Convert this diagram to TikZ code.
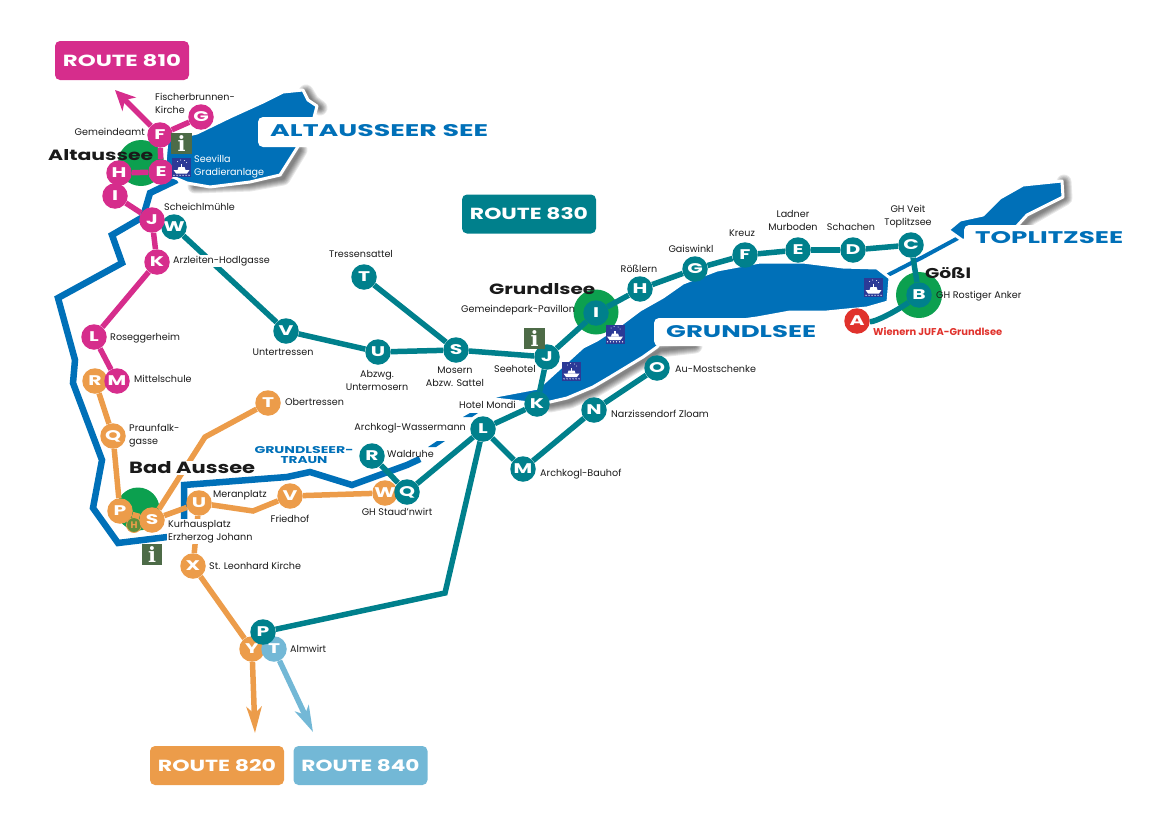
\documentclass[tikz,border=0pt]{standalone}
\usepackage{fontspec}
\setmainfont{Poppins}
\newfontfamily\infofont{DejaVu Serif}
\usetikzlibrary{arrows.meta}
\definecolor{tealc}{HTML}{00808C}
\definecolor{magc}{HTML}{D62D8C}
\definecolor{orac}{HTML}{EC9C4A}
\definecolor{lblc}{HTML}{73B8D6}
\definecolor{bluec}{HTML}{0070B8}
\definecolor{greenc}{HTML}{0CA04F}
\definecolor{redc}{HTML}{E0322C}
\definecolor{boatc}{HTML}{2C3A96}
\definecolor{infoc}{HTML}{4D6B47}
\definecolor{txtc}{HTML}{1A1A1A}
\definecolor{hring}{HTML}{5E8F3A}
\newcommand\wtext[3]{\resizebox{#1pt}{#2pt}{\bfseries #3}}
\newcommand\ltr[1]{\scalebox{1.45}[1]{\bfseries\fontsize{14}{14}\selectfont #1}}
\tikzset{
 x=1pt,y=-1pt,
 stopnode/.style={circle,minimum size=25.5pt,inner sep=0,text=white},
 stopm/.style={stopnode,fill=magc},
 stopt/.style={stopnode,fill=tealc},
 stopo/.style={stopnode,fill=orac},
 stopl/.style={stopnode,fill=lblc},
 stopr/.style={stopnode,fill=redc},
 linem/.style={draw=magc,line width=5.5pt},
 linet/.style={draw=tealc,line width=5.5pt},
 lineo/.style={draw=orac,line width=5.5pt},
 linel/.style={draw=lblc,line width=5.5pt},
 river/.style={draw=bluec,line width=6.5pt,line join=miter},
 lake/.style={fill=bluec,draw=white,line width=3pt,line join=round},
 town/.style={circle,fill=greenc,inner sep=0},
 lbl/.style={font=\fontsize{9.6}{12.8}\selectfont,text=txtc,inner sep=0,align=left},
 lblc/.style={lbl,align=center},
 lblw/.style={lbl,text=white},
 bigname/.style={inner sep=0,text=txtc},
 lakename/.style={inner sep=0,text=bluec},
 routebox/.style={rounded corners=5pt,minimum width=134pt,minimum height=39pt,inner sep=0,text=white},
 infobox/.style={fill=infoc,minimum size=20.5pt,inner sep=0,text=white,font=\infofont\bfseries\fontsize{21}{21}\selectfont},
 whitebox/.style={fill=white,rounded corners=5pt},
 soft/.style={draw=black,opacity=.09,line cap=round,line join=round},
 boaticon/.pic={
  \fill[boatc] (-9.5,-9.5) rectangle (9.5,9.5);
  \fill[white] (-8,2.5) -- (8,2.5) -- (5.5,6) -- (-5.5,6) -- cycle;
  \fill[white] (-4,2.5) -- (-3,-.5) -- (3,-.5) -- (4,2.5) -- cycle;
  \fill[white] (-.7,-3.5) rectangle (.7,-.5);
  \foreach \dx in {-7.5,-4.5,-1.5,1.5,4.5,7.5} \fill[white] (\dx,7.8) circle (.7);
  \foreach \dx/\dy in {-4/-6,-1/-7.5,3/-7,5/-5} \fill[white] (\dx,\dy) circle (.5);
 }
}
\begin{document}
\begin{tikzpicture}
\useasboundingbox (0,0) rectangle (1170,827);
% shadows
\foreach \w in {3,5,7,9,11,13,15}{
 \draw[soft,line width=\w pt] (195,186) -- (250,184) -- (283,178) -- (300,150);
 \draw[soft,line width=\w pt] (306,92) -- (312,102) -- (320,108);
 \draw[soft,line width=\w pt] (550,405) -- (570,401) -- (595,390) -- (612,380) -- (645,360) -- (660,350) -- (695,346);
 \draw[soft,line width=\w pt] (1064,182) -- (1065,198) -- (1030,218) -- (1022,226);
}
% rivers
\draw[river] (177,180) -- (150,193) -- (143,217) -- (112,235) -- (122,263) -- (58,298) -- (75,360) -- (73,383) -- (102,460) -- (93,508) -- (118,543) -- (184,535) -- (184,485) -- (287,477) -- (310,472) -- (352,485) -- (407,465) -- (420,459);
\draw[bluec,line width=4pt,line cap=round] (888,275) -- (923,257) -- (960,237);
\fill[bluec] (428,447) -- (437,441) -- (445,441) -- (436,447) -- cycle;
\fill[bluec] (463,417) -- (470,413) -- (478,413) -- (472,417) -- cycle;
% lakes
\path[lake] (303,90) -- (308,100) -- (317,106) -- (312,125) -- (297,148) -- (280,175) -- (250,182) -- (210,187) -- (187,183) -- (173,177) -- (165,163) -- (167,140) -- (197,133) -- (230,117) -- (263,102) -- (283,92) -- cycle;
\path[lake] (485,398) -- (538,388) -- (550,377) -- (583,347) -- (597,340) -- (620,325) -- (640,310) -- (663,297) -- (683,283) -- (717,270) -- (760,262) -- (803,262) -- (843,267) -- (877,268) -- (890,278) -- (888,302) -- (867,308) -- (827,312) -- (790,312) -- (757,318) -- (670,330) -- (657,347) -- (643,357) -- (610,377) -- (593,387) -- (567,398) -- (550,402) -- (530,403) -- cycle;
\path[lake] (962,240) -- (948,230) -- (960,220) -- (983,215) -- (1000,198) -- (1023,185) -- (1062,181) -- (1063,197) -- (1027,215) -- (1017,226) -- (985,240) -- cycle;
% lake labels
\fill[whitebox] (258,117) rectangle (492,147);
\fill[whitebox] (654,318) rectangle (820,346);
\fill[whitebox] (964,225) rectangle (1127,253);
\node[lakename,anchor=west] (nAlt) at (270,130.5) {\wtext{218}{12}{ALTAUSSEER SEE}};
\node[lakename,anchor=west] (nGru) at (666,332) {\wtext{150}{12}{GRUNDLSEE}};
\node[lakename,anchor=west] (nTop) at (975,238) {\wtext{148}{12}{TOPLITZSEE}};
% town discs
\node[town,minimum size=46pt] (gA) at (141,163) {};
\node[town,minimum size=43pt] (gB) at (138,509) {};
\node[town,minimum size=45pt] (gG) at (596,312) {};
\node[town,minimum size=46pt] (gT) at (919,295) {};
% route boxes
\node[routebox,fill=magc] (r810) at (122,60.5) {\wtext{118}{12}{ROUTE 810}};
\node[routebox,fill=tealc] (r830) at (529,214) {\wtext{118}{12}{ROUTE 830}};
\node[routebox,fill=orac] (r820) at (217,765.5) {\wtext{118}{12}{ROUTE 820}};
\node[routebox,fill=lblc] (r840) at (360.5,765.5) {\wtext{118}{12}{ROUTE 840}};
% corners and free ends
\coordinate (a810) at (115,90);
\coordinate (a820) at (255,733);
\coordinate (a840) at (313,732);
\coordinate (cLP) at (445,593);
\coordinate (cUV) at (253,511);
\coordinate (cST) at (205,437);
% teal stops
\node[stopt] (tW) at (174,227) {\ltr{W}};
\node[stopr] (tA) at (857,321) {\ltr{A}};
\node[stopt] (tB) at (919,295) {\ltr{B}};
\node[stopt] (tC) at (911,245) {\ltr{C}};
\node[stopt] (tD) at (853,250) {\ltr{D}};
\node[stopt] (tE) at (798,250) {\ltr{E}};
\node[stopt] (tF) at (745,255) {\ltr{F}};
\node[stopt] (tG) at (695,269) {\ltr{G}};
\node[stopt] (tH) at (640,289) {\ltr{H}};
\node[stopt] (tI) at (596,313) {\ltr{I}};
\node[stopt] (tJ) at (547,357) {\ltr{J}};
\node[stopt] (tK) at (537,404) {\ltr{K}};
\node[stopt] (tL) at (483,429) {\ltr{L}};
\node[stopt] (tM) at (523,469) {\ltr{M}};
\node[stopt] (tN) at (594,410) {\ltr{N}};
\node[stopt] (tO) at (657,368) {\ltr{O}};
\node[stopt] (tS) at (456,350) {\ltr{S}};
\node[stopt] (tU) at (378,352) {\ltr{U}};
\node[stopt] (tV) at (286,331) {\ltr{V}};
\node[stopt] (tT) at (364,277) {\ltr{T}};
\node[stopt] (tR) at (372,456) {\ltr{R}};
% orange stops
\node[stopo] (oW) at (385,493) {\ltr{W}};
\node[stopo] (oV) at (290,496) {\ltr{V}};
\node[stopo] (oU) at (199,503) {\ltr{U}};
\node[stopo] (oT) at (268,403) {\ltr{T}};
\node[stopo] (oP) at (120,511) {\ltr{P}};
\node[stopo] (oQ) at (113,436) {\ltr{Q}};
\node[stopo] (oR) at (95,381) {\ltr{R}};
\node[stopo] (oX) at (193,566) {\ltr{X}};
\node[stopo] (oY) at (252,649) {\ltr{Y}};
\node[stopt] (tQ) at (407,492) {\ltr{Q}};
\node[stopl] (lT) at (274,649) {\ltr{T}};
\node[stopt] (tP) at (263,632) {\ltr{P}};
\node[circle,fill=hring,draw=orac,line width=.8pt,minimum size=15pt,inner sep=0,text=orac,font=\fontsize{9.5}{9.5}\selectfont\bfseries] (oH) at (134,525) {H};
\node[stopo] (oS) at (152,520) {\ltr{S}};
% magenta stops
\node[stopm] (mG) at (201,117) {\ltr{G}};
\node[stopm] (mF) at (160,135) {\ltr{F}};
\node[stopm] (mE) at (161,172) {\ltr{E}};
\node[stopm] (mH) at (119,173) {\ltr{H}};
\node[stopm] (mI) at (115,196) {\ltr{I}};
\node[stopm] (mJ) at (152,220) {\ltr{J}};
\node[stopm] (mK) at (157,262) {\ltr{K}};
\node[stopm] (mL) at (94,337) {\ltr{L}};
\node[stopm] (mM) at (117,381) {\ltr{M}};
% connectors
\draw[linem] (mG) -- (mF);
\draw[linem,-{Stealth[length=20pt,width=19pt,inset=6pt]}] (mF) -- (a810);
\draw[linem] (mF) -- (mE);
\draw[linem] (mE) -- (mH);
\draw[linem] (mH) -- (mI);
\draw[linem] (mI) -- (mJ);
\draw[linem] (mJ) -- (mK);
\draw[linem] (mK) -- (mL);
\draw[linem] (mL) -- (mM);
\draw[linet] (tA) .. controls (875,322) and (895,312) .. (tB);
\draw[linet] (tB) -- (tC);
\draw[linet] (tC) -- (tD);
\draw[linet] (tD) -- (tE);
\draw[linet] (tE) -- (tF);
\draw[linet] (tF) -- (tG);
\draw[linet] (tG) -- (tH);
\draw[linet] (tH) -- (tI);
\draw[linet] (tI) -- (tJ);
\draw[linet] (tJ) -- (tK);
\draw[linet] (tK) -- (tL);
\draw[linet] (tL) -- (tM);
\draw[linet] (tM) -- (tN);
\draw[linet] (tN) -- (tO);
\draw[linet] (tJ) -- (tS);
\draw[linet] (tS) -- (tU);
\draw[linet] (tU) -- (tV);
\draw[linet] (tV) -- (tW);
\draw[linet] (tT) -- (tS);
\draw[linet] (tL) -- (tQ);
\draw[linet] (tR) -- (tQ);
\draw[linet] (tL) -- (cLP) -- (tP);
\draw[lineo] (oR) -- (oQ);
\draw[lineo] (oQ) -- (oP);
\draw[lineo] (oP) -- (oS);
\draw[lineo] (oS) -- (oU);
\draw[lineo] (oU) -- (cUV) -- (oV);
\draw[lineo] (oV) -- (oW);
\draw[lineo] (oS) -- (cST) -- (oT);
\draw[lineo] (oU) -- (oX);
\draw[lineo] (oX) -- (oY);
\draw[lineo,-{Stealth[length=26pt,width=15pt,inset=7pt]}] (oY) -- (a820);
\draw[linel,-{Stealth[length=26pt,width=15pt,inset=7pt]}] (lT) -- (a840);
% icons
\node[infobox] (i1) at (181.5,143.5) {i};
\node[infobox] (i2) at (152,554.5) {i};
\node[infobox] (i3) at (534.5,338.5) {i};
\pic at (181.5,167.5) {boaticon};
\pic at (615,334) {boaticon};
\pic at (571.5,371) {boaticon};
\pic at (873.5,287.5) {boaticon};
% town names
\node[bigname,anchor=west] (tnA) at (48,155) {\wtext{105}{11}{Altaussee}};
\node[bigname,anchor=west,fill=white,inner sep=1pt] (tnB) at (128,468) {\wtext{126}{12}{Bad Aussee}};
\node[bigname,anchor=west] (tnG) at (489,289) {\wtext{106}{11}{Grundlsee}};
\node[bigname,anchor=west] (tnT) at (925,273) {\wtext{46}{11}{Gößl}};
% labels
\node[lbl,anchor=west] (l1) at (155,103.5) {Fischerbrunnen-\\Kirche};
\node[lbl,anchor=east] (l2) at (145,132) {Gemeindeamt};
\node[lblw,anchor=west] (l3) at (194,166.5) {Seevilla\\Gradieranlage};
\node[lbl,anchor=west] (l4) at (164,207) {Scheichlmühle};
\node[lbl,anchor=west,fill=white,inner sep=1pt] (l5) at (172,261) {Arzleiten-Hodlgasse};
\node[lblc] (l6) at (361,254) {Tressensattel};
\node[lbl,anchor=west] (l7) at (110,338) {Roseggerheim};
\node[lbl,anchor=west] (l8) at (134,379) {Mittelschule};
\node[lbl,anchor=west] (l9) at (129,435.5) {Praunfalk-\\gasse};
\node[lbl,anchor=west] (l10) at (285,402) {Obertressen};
\node[lblc,text=bluec] (l11) at (304,455) {\resizebox{99pt}{7pt}{\bfseries GRUNDLSEER-}\\[-2.5pt]\resizebox{47pt}{7pt}{\bfseries TRAUN}};
\node[lbl,anchor=west,fill=white,inner ysep=1pt,inner xsep=1pt] (l12) at (167,531.5) {Kurhausplatz\\Erzherzog Johann};
\node[lbl,anchor=west] (l13) at (213,495) {Meranplatz};
\node[lblc] (l14) at (290,519) {Friedhof};
\node[lblc] (l15) at (397,512) {GH Staud'nwirt};
\node[lbl,anchor=west] (l16) at (387,454) {Waldruhe};
\node[lbl,anchor=east] (l17) at (466,428) {Archkogl-Wassermann};
\node[lbl,anchor=west] (l18) at (209,566) {St. Leonhard Kirche};
\node[lbl,anchor=west] (l19) at (290,649) {Almwirt};
\node[lblc] (l20) at (283,352) {Untertressen};
\node[lblc] (l21) at (377,380.5) {Abzwg.\\Untermosern};
\node[lblc] (l22) at (455,376.5) {Mosern\\Abzw. Sattel};
\node[lbl,anchor=west] (l23) at (459,405) {Hotel Mondi};
\node[lbl,anchor=east] (l24) at (536,369) {Seehotel};
\node[lbl,anchor=west] (l25) at (461,310) {Gemeindepark-Pavillon};
\node[lblc] (l26) at (639,269) {Rößlern};
\node[lblc] (l27) at (691,249) {Gaiswinkl};
\node[lblc] (l28) at (742,233) {Kreuz};
\node[lblc] (l29) at (793,220.5) {Ladner\\Murboden};
\node[lblc] (l30) at (851,227) {Schachen};
\node[lblc] (l31) at (908,216.5) {GH Veit\\Toplitzsee};
\node[lbl,anchor=west] (l32) at (936,296) {GH Rostiger Anker};
\node[inner sep=0,anchor=west,text=redc] (l33) at (873,332) {\resizebox{129pt}{!}{\bfseries Wienern JUFA-Grundlsee}};
\node[lbl,anchor=west] (l34) at (675,369) {Au-Mostschenke};
\node[lbl,anchor=west] (l35) at (611,414) {Narzissendorf Zloam};
\node[lbl,anchor=west] (l36) at (540,474) {Archkogl-Bauhof};
\end{tikzpicture}
\end{document}
